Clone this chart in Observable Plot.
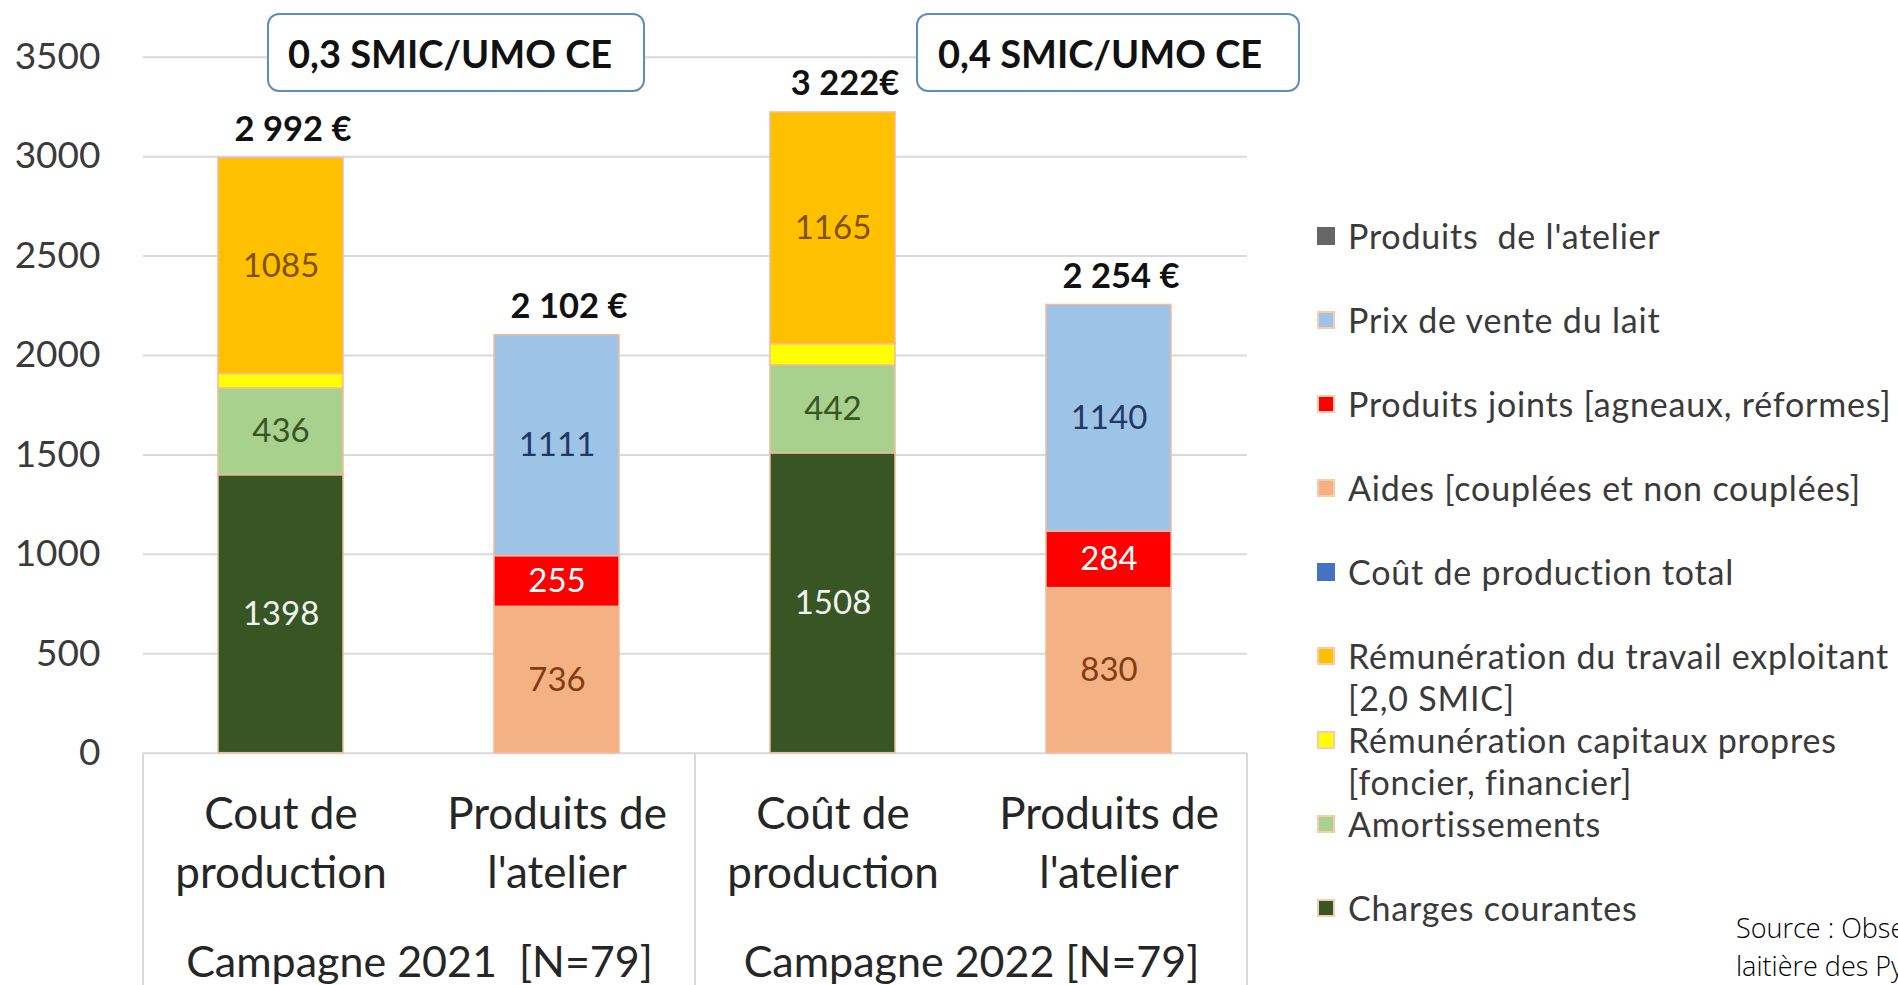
<!DOCTYPE html>
<html>
<head>
<meta charset="utf-8">
<script src="https://cdn.jsdelivr.net/npm/d3@7"></script>
<script src="https://cdn.jsdelivr.net/npm/@observablehq/plot@0.6"></script>
<style>
  html, body { margin: 0; padding: 0; background: #fff; overflow: hidden; }
  #wrap { position: relative; width: 1898px; height: 985px; overflow: hidden; font-family: Lato, sans-serif; }
  #chart { position: absolute; left: 0; top: 0; }
  .smic { position: absolute; box-sizing: border-box; border: 2px solid #5f8cc2; border-radius: 12px; background: #fff;
          font-weight: 700; font-size: 38px; color: #111; display: flex; align-items: center; white-space: pre; }
  #legend { position: absolute; left: 1317px; top: 213px; }
  .item { position: relative; height: 84px; }
  .sw { position: absolute; left: 0; top: 14px; width: 18px; height: 18px; box-sizing: border-box; }
  .lab { position: absolute; left: 31px; top: 4px; font-size: 34px; letter-spacing: 0.8px; color: #3a3a3a; white-space: pre; }
  .lab span { display: block; line-height: 38px; }
  .lab span + span { margin-top: 4px; }
  #source { position: absolute; left: 1736px; top: 909px; font-family: "Open Sans", sans-serif; font-weight: 300;
            font-size: 27px; line-height: 38px; color: #000; white-space: pre; }
</style>
</head>
<body>
<div id="wrap">
  <div id="chart"></div>
  <div id="legend"></div>
  <div id="source"></div>
</div>
<script>
// ---------- data ----------
const campaigns = ["Campagne 2021\u00a0 [N=79]", "Campagne 2022 [N=79]"];
const barKeys = ["cout", "produits"];
const categoryLabels = [["Cout de\nproduction", "Produits de\nl'atelier"], ["Coût de\nproduction", "Produits de\nl'atelier"]];

const chargesCourantes = [1398, 1508];
const amortissements   = [436, 442];
const remCapitaux      = [73, 107];
const remTravail       = [1085, 1165];
const aides            = [736, 830];
const produitsJoints   = [255, 284];
const prixLait         = [1111, 1140];

const totalsCout       = [2992, 3222];
const totalsProduits   = [2102, 2254];
const totalLabelsCout      = ["2 992 €", "3 222€"];
const totalLabelsProduits  = ["2 102 €", "2 254 €"];
const smicLabels = ["0,3 SMIC/UMO CE", "0,4 SMIC/UMO CE"];

const yTicks = [0, 500, 1000, 1500, 2000, 2500, 3000, 3500];

const legendNames = [
  "Produits  de l'atelier",
  "Prix de vente du lait",
  "Produits joints [agneaux, réformes]",
  "Aides [couplées et non couplées]",
  "Coût de production total",
  "Rémunération du travail exploitant\n[2,0 SMIC]",
  "Rémunération capitaux propres\n[foncier, financier]",
  "Amortissements",
  "Charges courantes"
];
const sourceText = "Source : Observatoire\nlaitière des Pyrénées";

// ---------- styles ----------
const S = {
  charges: "Charges courantes", amort: "Amortissements", cap: "Rémunération capitaux propres",
  trav: "Rémunération du travail exploitant", aides: "Aides [couplées et non couplées]",
  joints: "Produits joints [agneaux, réformes]", lait: "Prix de vente du lait",
  prod: "Produits  de l'atelier", total: "Coût de production total"
};
const fillColor = {
  [S.charges]: "#375623", [S.amort]: "#a9d18e", [S.cap]: "#ffff00", [S.trav]: "#ffc000",
  [S.aides]: "#f4b183", [S.joints]: "#ff0000", [S.lait]: "#9dc3e6",
  [S.prod]: "#666666", [S.total]: "#4472c4"
};
const labelColor = {
  [S.charges]: "#f2f2f2", [S.amort]: "#375623", [S.cap]: "#000", [S.trav]: "#7f5200",
  [S.aides]: "#843c0c", [S.joints]: "#ffffff", [S.lait]: "#1f3864"
};
const legendKeys = [S.prod, S.lait, S.joints, S.aides, S.total, S.trav, S.cap, S.amort, S.charges];

// ---------- build rows ----------
const rows = [];
campaigns.forEach((c, i) => {
  rows.push({campaign: c, key: "cout", series: S.charges, value: chargesCourantes[i]});
  rows.push({campaign: c, key: "cout", series: S.amort, value: amortissements[i]});
  rows.push({campaign: c, key: "cout", series: S.cap, value: remCapitaux[i]});
  rows.push({campaign: c, key: "cout", series: S.trav, value: remTravail[i]});
  rows.push({campaign: c, key: "produits", series: S.aides, value: aides[i]});
  rows.push({campaign: c, key: "produits", series: S.joints, value: produitsJoints[i]});
  rows.push({campaign: c, key: "produits", series: S.lait, value: prixLait[i]});
});
const totals = [];
campaigns.forEach((c, i) => {
  totals.push({campaign: c, key: "cout", total: totalsCout[i], label: totalLabelsCout[i]});
  totals.push({campaign: c, key: "produits", total: totalsProduits[i], label: totalLabelsProduits[i]});
});
const cats = [];
campaigns.forEach((c, i) => barKeys.forEach((k, j) => cats.push({campaign: c, key: k, label: categoryLabels[i][j]})));

// ---------- plot ----------
const W = 1898, H = 985;
const plot = Plot.plot({
  width: W, height: H,
  marginLeft: 143, marginRight: 651, marginTop: 56.7, marginBottom: 232.3,
  style: {fontFamily: "Lato, sans-serif", background: "transparent", overflow: "visible"},
  fx: {domain: campaigns, padding: 0, axis: null},
  x: {domain: barKeys, paddingInner: 0.547, paddingOuter: 0.2735, axis: null},
  y: {domain: [0, 3500]},
  color: {type: "identity"},
  marks: [
    Plot.gridY(yTicks, {stroke: "#d9d9d9", strokeOpacity: 1, strokeWidth: 2}),
    Plot.barY(rows, {fx: "campaign", x: "key", y: "value", z: "series",
      fill: d => fillColor[d.series], stroke: "#f4b99a", strokeWidth: 1.5}),
    Plot.text(rows, Plot.stackY({fx: "campaign", x: "key", y: "value", z: "series",
      text: d => d.series === S.cap ? "" : String(d.value),
      fill: d => labelColor[d.series], fontSize: 33})),
    Plot.text(totals, {fx: "campaign", x: "key", y: "total", text: "label",
      lineAnchor: "bottom", dy: -17, dx: 12, fontSize: 34.5, fontWeight: "bold", fill: "#111"}),
    Plot.text(cats, {fx: "campaign", x: "key", text: "label", frameAnchor: "bottom",
      lineAnchor: "top", dy: 35, fontSize: 44, lineHeight: 1.32, fill: "#262626"}),
    Plot.text(campaigns, {fx: d => d, text: d => d, frameAnchor: "bottom",
      lineAnchor: "bottom", dy: 224, fontSize: 43, fill: "#262626"}),
    Plot.axisY(yTicks, {tickSize: 0, tickPadding: 43, fontSize: 37, fill: "#3a3a3a",
      tickFormat: d => String(d), label: null})
  ]
});
document.getElementById("chart").appendChild(plot);

// separators of the category axis, from the facet scale
const fx = plot.scale("fx"), ys = plot.scale("y");
const svg = d3.select(plot);
const y0 = ys.apply(0);
const edges = campaigns.map(c => fx.apply(c)).concat([fx.apply(campaigns[campaigns.length - 1]) + fx.bandwidth]);
svg.append("g").selectAll("line").data(edges).join("line")
  .attr("x1", d => d).attr("x2", d => d).attr("y1", y0).attr("y2", H)
  .attr("stroke", "#d9d9d9").attr("stroke-width", 2);

// SMIC boxes
const wrap = document.getElementById("wrap");
const boxSpecs = [{left: 267, width: 378, pad: 19}, {left: 916, width: 384, pad: 20}];
smicLabels.forEach((t, i) => {
  const b = document.createElement("div");
  b.className = "smic";
  b.style.left = boxSpecs[i].left + "px";
  b.style.top = "13px";
  b.style.width = boxSpecs[i].width + "px";
  b.style.height = "79px";
  b.style.paddingLeft = boxSpecs[i].pad + "px";
  b.textContent = t;
  wrap.appendChild(b);
});

// legend
const lg = document.getElementById("legend");
legendKeys.forEach((k, i) => {
  const it = document.createElement("div");
  it.className = "item";
  const sw = document.createElement("div");
  sw.className = "sw";
  sw.style.background = fillColor[k];
  if (k !== S.prod && k !== S.total) sw.style.border = "2px solid #f8cbad";
  const lb = document.createElement("div");
  lb.className = "lab";
  legendNames[i].split("\n").forEach(line => {
    const sp = document.createElement("span");
    sp.textContent = line;
    lb.appendChild(sp);
  });
  it.appendChild(sw); it.appendChild(lb);
  lg.appendChild(it);
});
document.getElementById("source").textContent = sourceText;
</script>
</body>
</html>
